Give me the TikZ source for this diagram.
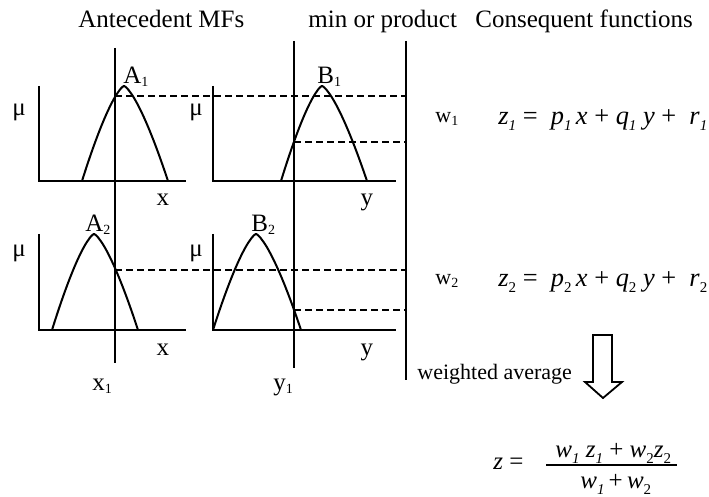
\documentclass[tikz,border=0pt]{standalone}
\usepackage{fontspec}
\setmainfont{Liberation Serif}
\usetikzlibrary{calc}
\newcommand{\lsub}[2]{#1\raisebox{-0.25ex}{\fontsize{7}{7}\selectfont #2}}
\newcommand{\isub}[2]{\textit{#1}\raisebox{-0.45ex}{\fontsize{7.5}{7.5}\selectfont #2}}
% one membership hump: peak x, peak y, left width, right width, base y
\newcommand{\mfcurve}[5]{%
  \draw[curve] plot[domain=1:0.002,samples=40] ({#1-#3*\x},{#2+(#5-#2)*\x^1.4})
    -- plot[domain=0.002:1,samples=40] ({#1+#4*\x},{#2+(#5-#2)*\x^1.4});}
\tikzset{
  axis/.style={line width=1pt},
  curve/.style={line width=1pt},
  cut/.style={line width=0.9pt, dash pattern=on 3.5pt off 2pt},
  txt/.style={inner sep=0pt, anchor=base west, font=\fontsize{12.5}{15}\selectfont},
  small/.style={txt, font=\fontsize{11}{13}\selectfont},
  eqn/.style={txt, font=\fontsize{13.2}{16}\selectfont},
  hollow/.style={line width=0.9pt, fill=white}
}
\begin{document}
\begin{tikzpicture}[x=0.5pt,y=-0.5pt]
  \useasboundingbox (0,0) rectangle (709,497);
  % titles
  \node[txt] (tA) at (78,28) {Antecedent MFs};
  \node[txt] (tM) at (308,28) {min or product};
  \node[txt] (tC) at (475,28) {Consequent functions};
  % axes
  \draw[axis] (39,86) -- (39,181) -- (186,181);
  \draw[axis] (213,86) -- (213,181) -- (396,181);
  \draw[axis] (39,234) -- (39,330) -- (186,330);
  \draw[axis] (213,234) -- (213,330) -- (396,330);
  % input lines
  \coordinate (x1top) at (115,48);
  \coordinate (x1bot) at (115,363);
  \coordinate (y1top) at (294,41);
  \coordinate (y1bot) at (294,368);
  \coordinate (rtop) at (406,41);
  \coordinate (rbot) at (406,380);
  \draw[axis] (x1top) -- (x1bot);
  \draw[axis] (y1top) -- (y1bot);
  \draw[axis] (rtop) -- (rbot);
  % membership functions
  \mfcurve{124}{86}{42}{44}{181}
  \mfcurve{322}{86}{41}{45}{181}
  \mfcurve{94}{234}{42}{44}{330}
  \mfcurve{256}{234}{43}{45}{330}
  % firing levels
  \draw[cut] (115,96) -- (406,96);
  \draw[cut] (294,142) -- (406,142);
  \draw[cut] (115,270) -- (406,270);
  \draw[cut] (294,310) -- (406,310);
  % labels
  \node[txt] (lA1) at (123,84) {\lsub{A}{1}};
  \node[txt] (lB1) at (317,84) {\lsub{B}{1}};
  \node[txt] (lA2) at (85,232) {\lsub{A}{2}};
  \node[txt] (lB2) at (251,232) {\lsub{B}{2}};
  \node[txt,anchor=base] (mu1) at (19,116) {μ};
  \node[txt,anchor=base] (mu2) at (196,116) {μ};
  \node[txt,anchor=base] (mu3) at (19,257) {μ};
  \node[txt,anchor=base] (mu4) at (196,257) {μ};
  \node[txt,anchor=base] (ax1) at (163,206) {x};
  \node[txt,anchor=base] (ay1) at (367,206) {y};
  \node[txt,anchor=base] (ax2) at (163,356) {x};
  \node[txt,anchor=base] (ay2) at (367,356) {y};
  \node[txt] (lx1) at (92,391) {\lsub{x}{1}};
  \node[txt] (ly1) at (273,391) {\lsub{y}{1}};
  % consequents
  \node[small] (w1) at (435,123) {\lsub{w}{1}};
  \node[small] (w2) at (435,285) {\lsub{w}{2}};
  \node[eqn] (eq1) at (498,125) {\isub{z}{\textit{1}} = \ \isub{p}{\textit{1}}\,\textit{x} + \isub{q}{\textit{1}} \textit{y} + \ \isub{r}{\textit{1}}};
  \node[eqn] (eq2) at (498,287) {\isub{z}{2} = \ \isub{p}{2}\,\textit{x} + \isub{q}{2} \textit{y} + \ \isub{r}{2}};
  % weighted average
  \node[small] (wavg) at (417,380) {weighted average};
  \draw[hollow] (593,335) -- (612,335) -- (612,382) -- (622,382) -- (603,398)
    -- (585,382) -- (593,382) -- cycle;
  \node[txt] (zeq) at (493,470) {\textit{z} =};
  \node[txt] (num) at (555,458) {\isub{w}{\textit{1}} \isub{z}{\textit{1}} + \isub{w}{2}\isub{z}{2}};
  \node[txt] (den) at (580,489) {\isub{w}{\textit{1}}\,+\,\isub{w}{2}};
  \draw[line width=0.9pt] (546,465) -- (677,465);
\end{tikzpicture}
\end{document}
